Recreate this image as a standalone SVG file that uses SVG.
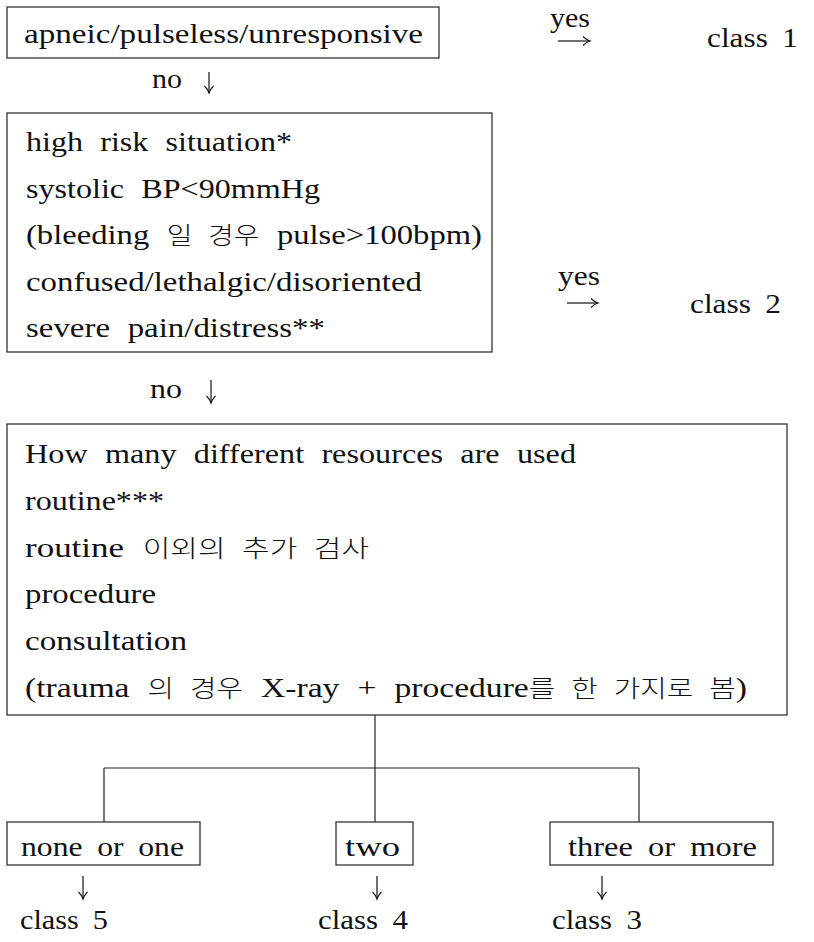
<svg xmlns="http://www.w3.org/2000/svg" width="814" height="942" viewBox="0 0 814 942">
<defs>
<marker id="ah" markerWidth="12" markerHeight="12" refX="9" refY="6" orient="auto" markerUnits="userSpaceOnUse">
<path d="M2,1.5 Q5.5,5 9,6 Q5.5,7 2,10.5" fill="none" stroke="#111" stroke-width="1.1"/>
</marker>
</defs>
<style>
text{font-family:"Liberation Serif","Noto Sans CJK KR",serif;font-size:28px;fill:#111}
.k{font-family:"Noto Sans CJK KR",sans-serif;font-size:24px;font-weight:300}
.box{fill:none;stroke:#333;stroke-width:1.3}
.ln{stroke:#222;stroke-width:1.2;fill:none}
.ar{stroke:#111;stroke-width:1.2;fill:none;marker-end:url(#ah)}
</style>
<rect width="814" height="942" fill="#fff"/>
<g id="connectors">
<line class="ln" x1="375" y1="715" x2="375" y2="822"/>
<line class="ln" x1="104" y1="768" x2="639" y2="768"/>
<line class="ln" x1="104" y1="768" x2="104" y2="822"/>
<line class="ln" x1="639" y1="768" x2="639" y2="822"/>
<line class="ar" x1="558" y1="41" x2="590" y2="41"/>
<line class="ar" x1="567" y1="303" x2="598" y2="303"/>
<line class="ar" x1="209" y1="72" x2="209" y2="93"/>
<line class="ar" x1="211" y1="380" x2="211" y2="403"/>
<line class="ar" x1="83" y1="876" x2="83" y2="899"/>
<line class="ar" x1="377" y1="876" x2="377" y2="899"/>
<line class="ar" x1="602" y1="876" x2="602" y2="899"/>
<text x="550" y="27" textLength="40" lengthAdjust="spacingAndGlyphs">yes</text>
<text x="152" y="88" textLength="30" lengthAdjust="spacingAndGlyphs">no</text>
<text x="558" y="285" textLength="42" lengthAdjust="spacingAndGlyphs">yes</text>
<text x="150" y="398" textLength="32" lengthAdjust="spacingAndGlyphs">no</text>
</g>
<g id="n1">
<rect class="box" x="7" y="7" width="432" height="51"/>
<text x="24" y="43" textLength="399" lengthAdjust="spacingAndGlyphs">apneic/pulseless/unresponsive</text>
</g>
<g id="c1"><text x="707" y="47" textLength="91" lengthAdjust="spacingAndGlyphs" style="word-spacing:6px">class 1</text></g>
<g id="n2">
<rect class="box" x="7" y="113" width="485" height="239"/>
<text x="26" y="151" textLength="266" lengthAdjust="spacingAndGlyphs" style="word-spacing:8px">high risk situation*</text>
<text x="26" y="197.5" textLength="294" lengthAdjust="spacingAndGlyphs" style="word-spacing:8px">systolic BP&lt;90mmHg</text>
<text x="26" y="244" textLength="456" lengthAdjust="spacingAndGlyphs" style="word-spacing:8px">(bleeding <tspan class="k">일 경우</tspan> pulse&gt;100bpm)</text>
<text x="26" y="290.5" textLength="396" lengthAdjust="spacingAndGlyphs">confused/lethalgic/disoriented</text>
<text x="26" y="337" textLength="299" lengthAdjust="spacingAndGlyphs" style="word-spacing:8px">severe pain/distress**</text>
</g>
<g id="c2"><text x="690" y="313" textLength="91" lengthAdjust="spacingAndGlyphs" style="word-spacing:6px">class 2</text></g>
<g id="n3">
<rect class="box" x="7" y="424" width="780" height="291"/>
<text x="25" y="463" textLength="551" lengthAdjust="spacingAndGlyphs" style="word-spacing:8px">How many different resources are used</text>
<text x="25" y="510" textLength="139" lengthAdjust="spacingAndGlyphs">routine***</text>
<text x="25" y="557" textLength="344" lengthAdjust="spacingAndGlyphs" style="word-spacing:8px">routine <tspan class="k">이외의 추가 검사</tspan></text>
<text x="25" y="603" textLength="131" lengthAdjust="spacingAndGlyphs">procedure</text>
<text x="25" y="650" textLength="162" lengthAdjust="spacingAndGlyphs">consultation</text>
<text x="25" y="697" textLength="722" lengthAdjust="spacingAndGlyphs" style="word-spacing:8px">(trauma <tspan class="k">의 경우</tspan> X-ray + procedure<tspan class="k">를 한 가지로 봄</tspan>)</text>
</g>
<g id="n4">
<rect class="box" x="7" y="822" width="193" height="43"/>
<text x="21" y="856" textLength="163" lengthAdjust="spacingAndGlyphs" style="word-spacing:6px">none or one</text>
</g>
<g id="n5">
<rect class="box" x="336" y="822" width="77" height="43"/>
<text x="345" y="856" textLength="55" lengthAdjust="spacingAndGlyphs">two</text>
</g>
<g id="n6">
<rect class="box" x="550" y="822" width="223" height="43"/>
<text x="568" y="856" textLength="189" lengthAdjust="spacingAndGlyphs" style="word-spacing:6px">three or more</text>
</g>
<g id="c5"><text x="20" y="929" textLength="88" lengthAdjust="spacingAndGlyphs" style="word-spacing:6px">class 5</text></g>
<g id="c4"><text x="318" y="929" textLength="90" lengthAdjust="spacingAndGlyphs" style="word-spacing:6px">class 4</text></g>
<g id="c3"><text x="552" y="929" textLength="90" lengthAdjust="spacingAndGlyphs" style="word-spacing:6px">class 3</text></g>
</svg>
